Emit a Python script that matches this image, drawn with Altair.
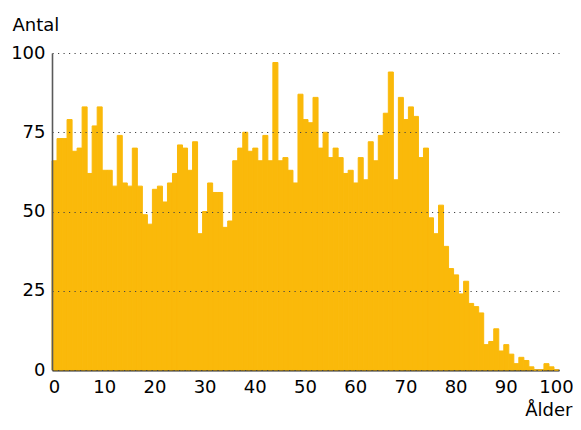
import altair as alt
import pandas as pd

ages = list(range(101))
counts = [66, 73, 73, 79, 69, 70, 83, 62, 77, 83,
          63, 63, 58, 74, 59, 58, 70, 58, 49, 46,
          57, 58, 53, 59, 62, 71, 70, 63, 72, 43,
          50, 59, 56, 56, 45, 47, 66, 70, 75, 69,
          70, 66, 74, 66, 97, 66, 67, 63, 59, 87,
          79, 78, 86, 70, 75, 67, 70, 67, 62, 63,
          59, 67, 60, 72, 66, 74, 81, 94, 60, 86,
          79, 83, 80, 67, 70, 48, 43, 52, 39, 32,
          30, 24, 28, 21, 20, 18, 8, 9, 13, 6,
          8, 5, 2, 4, 3, 1, 0, 0, 2, 1,
          0]
x_ticks = list(range(0, 101, 10))
y_ticks = [0, 25, 50, 75, 100]

df = pd.DataFrame({"Ålder": ages, "Antal": counts})

FONT = "DejaVu Sans"
BAR = "#FAB90A"

chart = alt.Chart(df).mark_bar(color=BAR, stroke=BAR, strokeWidth=1).encode(
    x=alt.X(
        "Ålder:O",
        scale=alt.Scale(paddingInner=0, paddingOuter=0),
        axis=alt.Axis(
            values=x_ticks, labelAngle=0, ticks=False, labelPadding=8,
            labelFont=FONT, labelFontSize=18, labelColor="#000",
            domainColor="#222", domainWidth=2,
            title="Ålder", titleFont=FONT, titleFontSize=18, titleFontWeight="normal",
            titleColor="#000", titleAnchor="end", titleAlign="right",
            titleX=520, titleY=45, titleBaseline="alphabetic",
        ),
    ),
    y=alt.Y(
        "Antal:Q",
        scale=alt.Scale(domain=[0, 100], nice=False),
        axis=alt.Axis(
            values=y_ticks, ticks=False, labelPadding=7,
            labelFont=FONT, labelFontSize=18, labelColor="#000",
            domainColor="#5a5a5a", domainWidth=1.6,
            grid=True, gridColor="#444", gridDash=[1.2, 4.3], gridWidth=1,
            zindex=1,
            title="Antal", titleFont=FONT, titleFontSize=18, titleFontWeight="normal",
            titleColor="#000", titleAngle=0, titleAlign="left",
            titleX=-40, titleY=-23, titleBaseline="alphabetic",
        ),
    ),
).properties(
    width=507,
    height=317,
    autosize=alt.AutoSizeParams(type="none"),
    padding={"left": 44, "top": 45, "right": 14, "bottom": 50},
).configure_view(stroke=None)

chart.save("out.html", embed_options={"renderer": "svg", "actions": False})
